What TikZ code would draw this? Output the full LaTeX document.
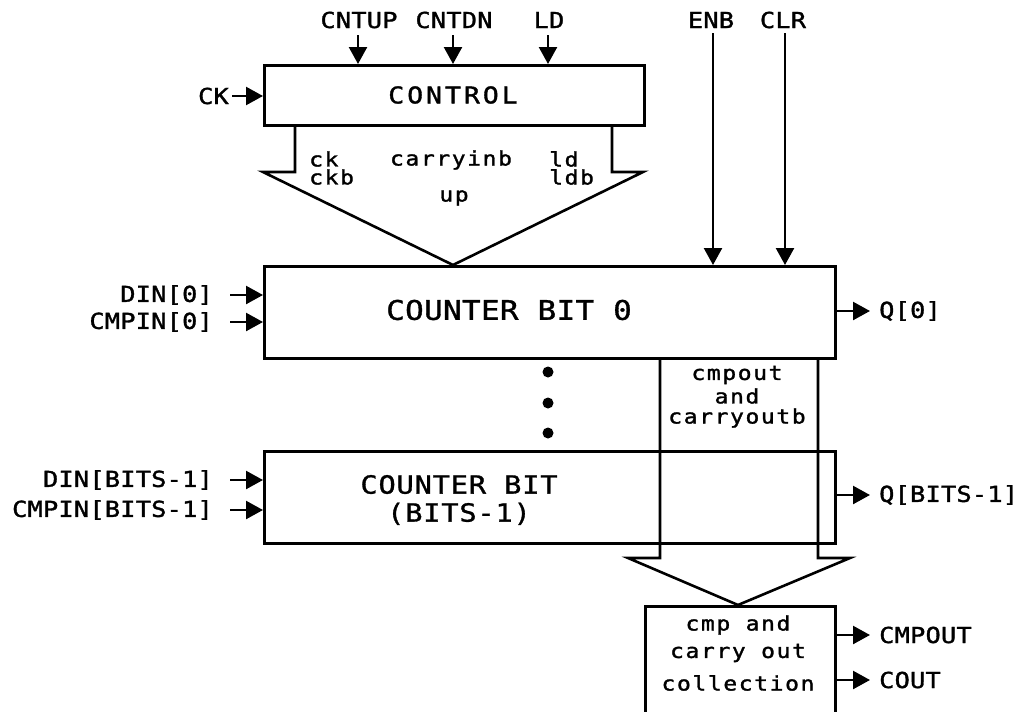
\documentclass[tikz,border=0pt]{standalone}
\usepackage{fontspec}
\usetikzlibrary{arrows.meta}
% plotter-like lettering: a widened monospaced face
\newfontfamily\sigfont[FakeStretch=1.15,FakeBold=1.5,LetterSpace=1]{DejaVu Sans Mono}
\newfontfamily\ctrlfont[FakeStretch=1.15,FakeBold=1.5,LetterSpace=13]{DejaVu Sans Mono}
\newfontfamily\boxfont[FakeStretch=1.15,FakeBold=1.2,LetterSpace=1]{DejaVu Sans Mono}
\newfontfamily\midfont[FakeStretch=1.15,FakeBold=1.2,LetterSpace=3]{DejaVu Sans Mono}
\newfontfamily\lowfont[FakeStretch=1.15,FakeBold=1.5,LetterSpace=8]{DejaVu Sans Mono}
\begin{document}
\begin{tikzpicture}[x=1pt,y=-1pt,
  sig/.style={line width=2.4pt,-{Triangle[length=17pt,width=18pt]}},
  blk/.style={draw,line width=2.6pt,inner sep=0pt,anchor=north west},
  outline/.style={line width=2.6pt,line join=miter},
  lbl/.style={inner sep=0pt,font=\sigfont\fontsize{22}{24}\selectfont},
  low/.style={inner sep=0pt,font=\lowfont\fontsize{20}{22}\selectfont},
  bigtxt/.style={inner sep=0pt,font=\boxfont\fontsize{27}{30}\selectfont},
  midtxt/.style={inner sep=0pt,font=\midfont\fontsize{25}{30}\selectfont,align=center},
  ctrltxt/.style={inner sep=0pt,font=\ctrlfont\fontsize{23}{26}\selectfont},
  dot/.style={circle,fill,inner sep=0pt,minimum size=11pt}]
\useasboundingbox[fill=white] (0,0) rectangle (1021,712);

% blocks
\node[blk,minimum width=380pt,minimum height=60pt] (ctrl) at (263,64) {};
\node[ctrltxt] (ctrltitle) at (453,95) {CONTROL};
\node[blk,minimum width=571pt,minimum height=92pt] (bit0) at (263,265) {};
\node[bigtxt] (bit0title) at (509,310) {COUNTER BIT 0};
\node[blk,minimum width=571pt,minimum height=92pt] (bitn) at (263,450) {};
\node[midtxt] (bitntitle) at (459,500) {COUNTER BIT\\[-2pt](BITS-1)};
\node[blk,minimum width=190pt,minimum height=107pt] (coll) at (644,605) {};

% wide bus from CONTROL into bit 0
\draw[outline] (295,124) -- (295,172) -- (263,172) -- (453,265)
  -- (643,172) -- (612,172) -- (612,124);
\node[low,anchor=west] (ckn) at (309,159) {ck};
\node[low,anchor=west] (ckbn) at (309,177) {ckb};
\node[low] (cin) at (451,160) {carryinb};
\node[low,anchor=west] (ldn) at (549,159) {ld};
\node[low,anchor=west] (ldbn) at (549,177) {ldb};
\node[low] (upn) at (454,198) {up};

% wide bus from the bits into the collection block
\draw[outline] (660,357) -- (660,558) -- (628,558) -- (738,605)
  -- (850,558) -- (818,558) -- (818,357);
\node[low] (co1) at (737,375) {cmpout};
\node[low] (co2) at (737,396) {and};
\node[low] (co3) at (737,418) {carryoutb};

% collection block text
\node[low] (cl1) at (738,625) {cmp and};
\node[low] (cl2) at (738,653) {carry out};
\node[low] (cl3) at (738,683) {collection};

% ellipsis between bit slices
\node[dot] (d1) at (548,372) {};
\node[dot] (d2) at (548,403) {};
\node[dot] (d3) at (548,433) {};

% control inputs
\node[lbl] (cntup) at (359,20) {CNTUP};
\node[lbl] (cntdn) at (454,20) {CNTDN};
\node[lbl] (ld) at (549,20) {LD};
\coordinate (upin) at (358,35);
\coordinate (dnin) at (453,35);
\coordinate (ldin) at (548,35);
\draw[sig] (upin) -- (upin |- ctrl.north);
\draw[sig] (dnin) -- (dnin |- ctrl.north);
\draw[sig] (ldin) -- (ldin |- ctrl.north);
\node[lbl,anchor=east] (ck) at (229,96) {CK};
\draw[sig] ([xshift=3pt]ck.east) -- (ck.east -| ctrl.west);

% bit slice control lines
\node[lbl] (enb) at (711,20) {ENB};
\node[lbl] (clr) at (783,20) {CLR};
\coordinate (enbin) at (713,33);
\coordinate (clrin) at (785,33);
\draw[sig] (enbin) -- (enbin |- bit0.north);
\draw[sig] (clrin) -- (clrin |- bit0.north);

% data inputs
\node[lbl,anchor=east] (din0) at (213,295) {DIN[0]};
\node[lbl,anchor=east] (cmp0) at (213,322) {CMPIN[0]};
\draw[sig] ([xshift=17pt]din0.east) -- (din0.east -| bit0.west);
\draw[sig] ([xshift=17pt]cmp0.east) -- (cmp0.east -| bit0.west);
\node[lbl,anchor=east] (dinn) at (213,480) {DIN[BITS-1]};
\node[lbl,anchor=east] (cmpn) at (213,510) {CMPIN[BITS-1]};
\draw[sig] ([xshift=17pt]dinn.east) -- (dinn.east -| bitn.west);
\draw[sig] ([xshift=17pt]cmpn.east) -- (cmpn.east -| bitn.west);

% outputs
\node[lbl,anchor=west] (q0) at (879,311) {Q[0]};
\draw[sig] (q0.west -| bit0.east) -- ([xshift=-9pt]q0.west);
\node[lbl,anchor=west] (qn) at (879,495) {Q[BITS-1]};
\draw[sig] (qn.west -| bitn.east) -- ([xshift=-9pt]qn.west);
\node[lbl,anchor=west] (cmpout) at (879,635) {CMPOUT};
\draw[sig] (cmpout.west -| coll.east) -- ([xshift=-9pt]cmpout.west);
\node[lbl,anchor=west] (cout) at (879,680) {COUT};
\draw[sig] (cout.west -| coll.east) -- ([xshift=-9pt]cout.west);
\end{tikzpicture}
\end{document}
